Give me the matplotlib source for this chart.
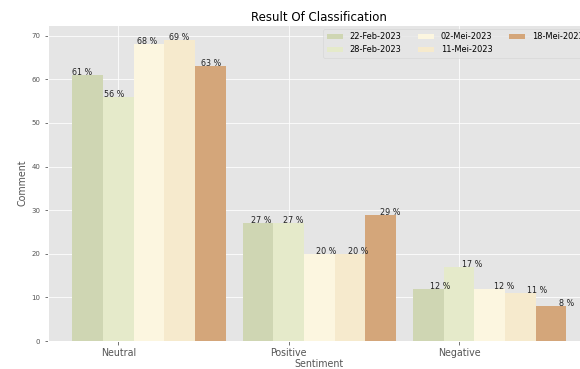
import numpy as np
import matplotlib
matplotlib.use("Agg")
import matplotlib.pyplot as plt

plt.style.use("ggplot")

sentiments = ["Neutral", "Positive", "Negative"]
dates = ["22-Feb-2023", "28-Feb-2023", "02-Mei-2023", "11-Mei-2023", "18-Mei-2023"]
feb22 = [61, 27, 12]
feb28 = [56, 27, 17]
mei02 = [68, 20, 12]
mei11 = [69, 20, 11]
mei18 = [63, 29, 8]
colors = ["#cfd6b3", "#e5eaca", "#fcf6e0", "#f6eacd", "#d4a67a"]

series = [feb22, feb28, mei02, mei11, mei18]
width = 0.18
x = np.arange(len(sentiments))

fig = plt.figure(figsize=(580 / 72, 369 / 72), dpi=72)
ax = fig.add_axes([47.5 / 580, 28 / 369, 543.5 / 580, 316 / 369])

for j, (vals, lab, col) in enumerate(zip(series, dates, colors)):
    bars = ax.bar(x + j * width, vals, width, align="edge", label=lab, color=col)
    for p in bars:
        ax.annotate(f"{int(p.get_height())} %", (p.get_x() * 1.05, p.get_height()),
                    fontsize=8, color="#222222")

ax.set_xticks(x + 1.5 * width)
ax.set_xticklabels(sentiments)
ax.tick_params(axis="both", labelsize=9.5, colors="#555555")
ax.tick_params(axis="y", labelsize=7)
ax.set_xlabel("Sentiment", fontsize=9.5, color="#555555", labelpad=1)
ax.set_ylabel("Comment", fontsize=9.5, color="#555555")
ax.set_title("Result Of Classification", fontsize=11.7, pad=4)
ax.legend(loc="upper right", ncol=3, fontsize=8.2)

fig.savefig("out.png", dpi=72)
